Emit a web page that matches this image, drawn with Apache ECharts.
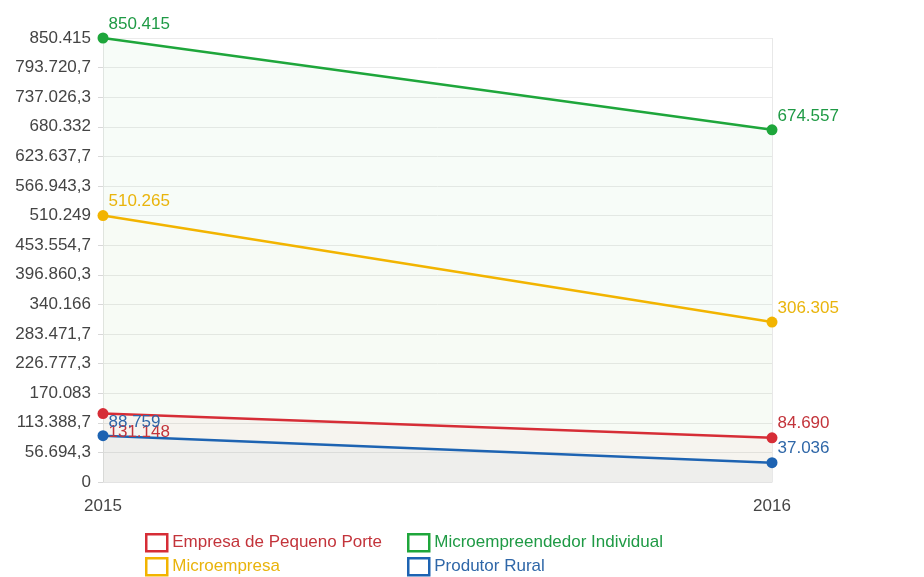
<!DOCTYPE html>
<html>
<head>
<meta charset="utf-8">
<script src="https://cdn.jsdelivr.net/npm/echarts@6/dist/echarts.min.js"></script>
<style>
  html, body { margin: 0; padding: 0; background: #ffffff; }
  #chart { width: 924px; height: 577px; }
</style>
</head>
<body>
<div id="chart"></div>
<script>
// Years on the category axis
const years = ['2015', '2016'];

// Values per company type
const empresaPequenoPorte = [131148, 84690];
const microempresa = [510265, 306305];
const microempreendedorIndividual = [850415, 674557];
const produtorRural = [88759, 37036];

// Y axis labels, bottom to top
const yTickLabels = [
  '0', '56.694,3', '113.388,7', '170.083', '226.777,3', '283.471,7',
  '340.166', '396.860,3', '453.554,7', '510.249', '566.943,3',
  '623.637,7', '680.332', '737.026,3', '793.720,7', '850.415'
];

const yMax = 850415;
const yStep = yMax / 15;

const FONT = '"Liberation Sans", Arial, Helvetica, sans-serif';

function fmtThousands(v) {
  return String(Math.round(v)).replace(/\B(?=(\d{3})+(?!\d))/g, '.');
}

// legendCell: [left, top] of each legend entry (two columns, two rows)
const seriesDefs = [
  { name: 'Empresa de Pequeno Porte', data: empresaPequenoPorte, color: '#d62d36', text: '#c3343b',
    area: 0.03, labelPos: [[11, 16], [11, -17]], legendCell: [145, 533] },
  { name: 'Microempresa', data: microempresa, color: '#f2b400', text: '#e9b40c',
    area: 0.012, labelPos: [[11, -17], [11, -17]], legendCell: [145, 557] },
  { name: 'Microempreendedor Individual', data: microempreendedorIndividual, color: '#1ea63b', text: '#1f9a45',
    area: 0.035, labelPos: [[11, -17], [11, -17]], legendCell: [407, 533] },
  { name: 'Produtor Rural', data: produtorRural, color: '#1d63b2', text: '#2f67a8',
    area: 0.035, labelPos: [[11, -16], [11, -17]], legendCell: [407, 557] }
];

const series = seriesDefs.map(function (s) {
  return {
    name: s.name,
    type: 'line',
    data: s.data.map(function (v, i) {
      return { value: v, label: { position: s.labelPos[i] } };
    }),
    symbol: 'circle',
    symbolSize: 11,
    lineStyle: { width: 2.5, color: s.color },
    itemStyle: { color: s.color },
    areaStyle: { color: s.color, opacity: s.area },
    label: {
      show: true,
      color: s.text,
      fontFamily: FONT,
      fontSize: 17,
      formatter: function (p) { return fmtThousands(p.value); }
    },
    labelLayout: { hideOverlap: false },
    emphasis: { disabled: true },
    animation: false
  };
});

const legends = seriesDefs.map(function (s) {
  return {
    left: s.legendCell[0], top: s.legendCell[1], padding: 0,
    itemWidth: 21, itemHeight: 17, itemGap: 7,
    textStyle: { fontFamily: FONT, fontSize: 17 },
    selectedMode: false,
    data: [{
      name: s.name,
      icon: 'rect',
      itemStyle: { color: 'rgba(255,255,255,0)', borderColor: s.color, borderWidth: 2.5 },
      textStyle: { color: s.text }
    }]
  };
});

const chart = echarts.init(document.getElementById('chart'), null, { renderer: 'canvas' });

chart.setOption({
  backgroundColor: '#ffffff',
  animation: false,
  grid: { left: 103, right: 152, top: 38, bottom: 95, containLabel: false },
  legend: legends,
  xAxis: {
    type: 'category',
    data: years,
    boundaryGap: false,
    axisLine: { show: true, lineStyle: { color: '#e3e3e3', width: 1 } },
    axisTick: { show: false },
    axisLabel: { color: '#444444', fontFamily: FONT, fontSize: 17, margin: 16 },
    splitLine: { show: true, lineStyle: { color: '#e8e8e8', width: 1 } }
  },
  yAxis: {
    type: 'value',
    min: 0,
    max: yMax,
    interval: yStep,
    axisLine: { show: false },
    axisTick: { show: true, length: 5, lineStyle: { color: '#d8d8d8' } },
    axisLabel: {
      color: '#444444', fontFamily: FONT, fontSize: 17, margin: 12,
      formatter: function (v, i) { return yTickLabels[i] !== undefined ? yTickLabels[i] : ''; }
    },
    splitLine: { show: true, lineStyle: { color: '#ebebeb', width: 1 } }
  },
  series: series
});
</script>
</body>
</html>
